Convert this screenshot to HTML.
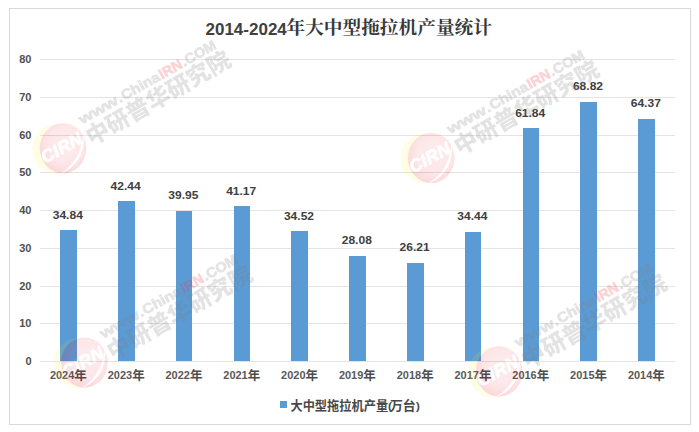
<!DOCTYPE html>
<html lang="zh"><head><meta charset="utf-8"><title>2014-2024年大中型拖拉机产量统计</title>
<style>
html,body{margin:0;padding:0;background:#fff;}
body{width:699px;height:432px;overflow:hidden;font-family:"Liberation Sans",sans-serif;}
svg{display:block}
text{font-family:"Liberation Sans","Noto Sans CJK SC",sans-serif;}
.ax{font-size:11px;font-weight:bold;fill:#505050}
.cat{font-size:11px;font-weight:bold;fill:#595959}
.val{font-size:11.4px;font-weight:bold;fill:#404040}
.ttl{font-size:17px;font-weight:bold;fill:#404040}
.lg{font-size:11.5px;font-weight:bold}
.cirn{font-size:17.5px;font-weight:bold;font-style:italic;fill:#000;stroke:#000;stroke-width:0.9px;letter-spacing:0.5px}
.wurl{font-size:14px;font-weight:bold;stroke-width:0.7px}
.yr{font-size:12.5px;font-weight:bold;fill:#4d4d4d}
.ttlc{font-family:"Liberation Serif","Noto Serif CJK SC",serif;font-size:18.67px;font-weight:bold;fill:#383838}
.lgc{font-size:13px;font-weight:bold;fill:#484848}
.wmc{font-size:23.3px;font-weight:900;fill:#7f7f7f}
</style></head>
<body>
<svg width="699" height="432" viewBox="0 0 699 432">
<defs><radialGradient id="pg" cx="0.56" cy="0.42" r="0.62"><stop offset="0" stop-color="#e60012" stop-opacity="0.075"/><stop offset="0.6" stop-color="#e60012" stop-opacity="0.095"/><stop offset="1" stop-color="#e60012" stop-opacity="0.16"/></radialGradient><mask id="ym" maskUnits="userSpaceOnUse" x="-40" y="-40" width="80" height="80"><rect x="-40" y="-40" width="80" height="80" fill="#fff"/><ellipse cx="0" cy="0" rx="23.3" ry="25.1" fill="#000"/></mask><mask id="lm" maskUnits="userSpaceOnUse" x="-40" y="-40" width="80" height="80"><rect x="-40" y="-40" width="80" height="80" fill="#fff"/><path d="M-1.5 24.6 C 8 21 15 13 17.8 5.5 C 20 -1 21 -7 20.5 -13.5 C 19.5 -6 18 0 15.8 5 C 12.5 12.5 6 20 -1.5 24.6 Z" fill="#000" stroke="#000" stroke-width="0.5"/><g transform="rotate(-29)"><text x="-23.4" y="4.85" class="cirn">CIRN</text></g></mask></defs>
<rect x="9.5" y="8.5" width="681" height="416" fill="#fff" stroke="#d9d9d9" stroke-width="1"/>
<line x1="40" x2="675" y1="361.5" y2="361.5" stroke="#e4e4e4" stroke-width="1"/>
<text x="31.5" y="364.5" text-anchor="end" class="ax" textLength="6.12" lengthAdjust="spacingAndGlyphs">0</text>
<line x1="40" x2="675" y1="323.5" y2="323.5" stroke="#e4e4e4" stroke-width="1"/>
<text x="31.5" y="326.5" text-anchor="end" class="ax" textLength="12.24" lengthAdjust="spacingAndGlyphs">10</text>
<line x1="40" x2="675" y1="286.5" y2="286.5" stroke="#e4e4e4" stroke-width="1"/>
<text x="31.5" y="289.5" text-anchor="end" class="ax" textLength="12.24" lengthAdjust="spacingAndGlyphs">20</text>
<line x1="40" x2="675" y1="248.5" y2="248.5" stroke="#e4e4e4" stroke-width="1"/>
<text x="31.5" y="251.5" text-anchor="end" class="ax" textLength="12.24" lengthAdjust="spacingAndGlyphs">30</text>
<line x1="40" x2="675" y1="210.5" y2="210.5" stroke="#e4e4e4" stroke-width="1"/>
<text x="31.5" y="213.5" text-anchor="end" class="ax" textLength="12.24" lengthAdjust="spacingAndGlyphs">40</text>
<line x1="40" x2="675" y1="172.5" y2="172.5" stroke="#e4e4e4" stroke-width="1"/>
<text x="31.5" y="175.5" text-anchor="end" class="ax" textLength="12.24" lengthAdjust="spacingAndGlyphs">50</text>
<line x1="40" x2="675" y1="135.5" y2="135.5" stroke="#e4e4e4" stroke-width="1"/>
<text x="31.5" y="138.5" text-anchor="end" class="ax" textLength="12.24" lengthAdjust="spacingAndGlyphs">60</text>
<line x1="40" x2="675" y1="97.5" y2="97.5" stroke="#e4e4e4" stroke-width="1"/>
<text x="31.5" y="100.5" text-anchor="end" class="ax" textLength="12.24" lengthAdjust="spacingAndGlyphs">70</text>
<line x1="40" x2="675" y1="59.5" y2="59.5" stroke="#e4e4e4" stroke-width="1"/>
<text x="31.5" y="62.5" text-anchor="end" class="ax" textLength="12.24" lengthAdjust="spacingAndGlyphs">80</text>
<rect x="60" y="230" width="17" height="131" fill="#5b9bd5"/>
<text x="67.8" y="219" text-anchor="middle" class="val" textLength="30.1" lengthAdjust="spacingAndGlyphs">34.84</text>
<text x="49.9" y="379.4" class="cat" textLength="24.4" lengthAdjust="spacingAndGlyphs">2024</text>
<text x="74.33" y="379.8" class="yr">年</text>
<rect x="118" y="201" width="17" height="160" fill="#5b9bd5"/>
<text x="125.6" y="190" text-anchor="middle" class="val" textLength="30.1" lengthAdjust="spacingAndGlyphs">42.44</text>
<text x="107.7" y="379.4" class="cat" textLength="24.4" lengthAdjust="spacingAndGlyphs">2023</text>
<text x="132.13" y="379.8" class="yr">年</text>
<rect x="176" y="211" width="16" height="150" fill="#5b9bd5"/>
<text x="183.4" y="199" text-anchor="middle" class="val" textLength="30.1" lengthAdjust="spacingAndGlyphs">39.95</text>
<text x="165.5" y="379.4" class="cat" textLength="24.4" lengthAdjust="spacingAndGlyphs">2022</text>
<text x="189.93" y="379.8" class="yr">年</text>
<rect x="234" y="206" width="16" height="155" fill="#5b9bd5"/>
<text x="241.2" y="195" text-anchor="middle" class="val" textLength="30.1" lengthAdjust="spacingAndGlyphs">41.17</text>
<text x="223.3" y="379.4" class="cat" textLength="24.4" lengthAdjust="spacingAndGlyphs">2021</text>
<text x="247.73" y="379.8" class="yr">年</text>
<rect x="291" y="231" width="17" height="130" fill="#5b9bd5"/>
<text x="299.0" y="220" text-anchor="middle" class="val" textLength="30.1" lengthAdjust="spacingAndGlyphs">34.52</text>
<text x="281.1" y="379.4" class="cat" textLength="24.4" lengthAdjust="spacingAndGlyphs">2020</text>
<text x="305.53" y="379.8" class="yr">年</text>
<rect x="349" y="256" width="17" height="105" fill="#5b9bd5"/>
<text x="356.8" y="244" text-anchor="middle" class="val" textLength="30.1" lengthAdjust="spacingAndGlyphs">28.08</text>
<text x="338.9" y="379.4" class="cat" textLength="24.4" lengthAdjust="spacingAndGlyphs">2019</text>
<text x="363.33" y="379.8" class="yr">年</text>
<rect x="407" y="263" width="17" height="98" fill="#5b9bd5"/>
<text x="414.6" y="251" text-anchor="middle" class="val" textLength="30.1" lengthAdjust="spacingAndGlyphs">26.21</text>
<text x="396.7" y="379.4" class="cat" textLength="24.4" lengthAdjust="spacingAndGlyphs">2018</text>
<text x="421.13" y="379.8" class="yr">年</text>
<rect x="465" y="232" width="16" height="129" fill="#5b9bd5"/>
<text x="472.4" y="220" text-anchor="middle" class="val" textLength="30.1" lengthAdjust="spacingAndGlyphs">34.44</text>
<text x="454.5" y="379.4" class="cat" textLength="24.4" lengthAdjust="spacingAndGlyphs">2017</text>
<text x="478.93" y="379.8" class="yr">年</text>
<rect x="523" y="128" width="16" height="233" fill="#5b9bd5"/>
<text x="530.2" y="117" text-anchor="middle" class="val" textLength="30.1" lengthAdjust="spacingAndGlyphs">61.84</text>
<text x="512.3" y="379.4" class="cat" textLength="24.4" lengthAdjust="spacingAndGlyphs">2016</text>
<text x="536.73" y="379.8" class="yr">年</text>
<rect x="580" y="102" width="17" height="259" fill="#5b9bd5"/>
<text x="588.0" y="90" text-anchor="middle" class="val" textLength="30.1" lengthAdjust="spacingAndGlyphs">68.82</text>
<text x="570.1" y="379.4" class="cat" textLength="24.4" lengthAdjust="spacingAndGlyphs">2015</text>
<text x="594.53" y="379.8" class="yr">年</text>
<rect x="638" y="119" width="17" height="242" fill="#5b9bd5"/>
<text x="645.8" y="107" text-anchor="middle" class="val" textLength="30.1" lengthAdjust="spacingAndGlyphs">64.37</text>
<text x="627.9" y="379.4" class="cat" textLength="24.4" lengthAdjust="spacingAndGlyphs">2014</text>
<text x="652.33" y="379.8" class="yr">年</text>
<text x="205.5" y="35.3" class="ttl" textLength="81.3" lengthAdjust="spacingAndGlyphs">2014-2024</text>
<text x="286.5" y="34.4" class="ttlc" textLength="205.4" lengthAdjust="spacingAndGlyphs">年大中型拖拉机产量统计</text>
<rect x="280" y="401" width="7" height="7" fill="#5b9bd5"/>
<text x="290.45" y="410.4" class="lgc" textLength="97.7" lengthAdjust="spacingAndGlyphs">大中型拖拉机产量</text>
<text x="387.9" y="409.8" class="lg" fill="#484848">(</text>
<text x="389.9" y="410.4" class="lgc" textLength="25.8" lengthAdjust="spacingAndGlyphs">万台</text>
<text x="415.9" y="409.8" class="lg" fill="#484848">)</text>
<g transform="translate(63.05 148.25)"><g mask="url(#lm)"><ellipse cx="-6.2" cy="0.6" rx="24.4" ry="25" fill="#ffe600" opacity="0.11" mask="url(#ym)"/><ellipse cx="0" cy="0" rx="23.3" ry="25.1" fill="url(#pg)"/></g><g opacity="0.21"><g transform="rotate(-29.4)"><text x="28.2" y="-11.5" class="wurl" fill="#7f7f7f" stroke="#7f7f7f" textLength="42.8" lengthAdjust="spacingAndGlyphs">www</text><text x="71.8" y="-11.5" class="wurl" fill="#7f7f7f" stroke="#7f7f7f" textLength="3.9" lengthAdjust="spacingAndGlyphs">.</text><text x="76.7" y="-11.5" class="wurl" fill="#7f7f7f" stroke="#7f7f7f" textLength="42.3" lengthAdjust="spacingAndGlyphs">China</text><text x="120.2" y="-11.5" class="wurl" fill="#ea3340" stroke="#ea3340" textLength="24.6" lengthAdjust="spacingAndGlyphs">IRN</text><text x="145.7" y="-11.5" class="wurl" fill="#7f7f7f" stroke="#7f7f7f" textLength="38.0" lengthAdjust="spacingAndGlyphs">.COM</text></g><g transform="rotate(-30)"><text x="25.9" y="12.4" class="wmc" textLength="163.1" lengthAdjust="spacingAndGlyphs">中研普华研究院</text></g></g></g>
<g transform="translate(431.25 158)"><g mask="url(#lm)"><ellipse cx="-6.2" cy="0.6" rx="24.4" ry="25" fill="#ffe600" opacity="0.11" mask="url(#ym)"/><ellipse cx="0" cy="0" rx="23.3" ry="25.1" fill="url(#pg)"/></g><g opacity="0.21"><g transform="rotate(-29.4)"><text x="28.2" y="-11.5" class="wurl" fill="#7f7f7f" stroke="#7f7f7f" textLength="42.8" lengthAdjust="spacingAndGlyphs">www</text><text x="71.8" y="-11.5" class="wurl" fill="#7f7f7f" stroke="#7f7f7f" textLength="3.9" lengthAdjust="spacingAndGlyphs">.</text><text x="76.7" y="-11.5" class="wurl" fill="#7f7f7f" stroke="#7f7f7f" textLength="42.3" lengthAdjust="spacingAndGlyphs">China</text><text x="120.2" y="-11.5" class="wurl" fill="#ea3340" stroke="#ea3340" textLength="24.6" lengthAdjust="spacingAndGlyphs">IRN</text><text x="145.7" y="-11.5" class="wurl" fill="#7f7f7f" stroke="#7f7f7f" textLength="38.0" lengthAdjust="spacingAndGlyphs">.COM</text></g><g transform="rotate(-30)"><text x="25.9" y="12.4" class="wmc" textLength="163.1" lengthAdjust="spacingAndGlyphs">中研普华研究院</text></g></g></g>
<g transform="translate(84.45 362.6)"><g mask="url(#lm)"><ellipse cx="-6.2" cy="0.6" rx="24.4" ry="25" fill="#ffe600" opacity="0.11" mask="url(#ym)"/><ellipse cx="0" cy="0" rx="23.3" ry="25.1" fill="url(#pg)"/></g><g opacity="0.21"><g transform="rotate(-29.4)"><text x="28.2" y="-11.5" class="wurl" fill="#7f7f7f" stroke="#7f7f7f" textLength="42.8" lengthAdjust="spacingAndGlyphs">www</text><text x="71.8" y="-11.5" class="wurl" fill="#7f7f7f" stroke="#7f7f7f" textLength="3.9" lengthAdjust="spacingAndGlyphs">.</text><text x="76.7" y="-11.5" class="wurl" fill="#7f7f7f" stroke="#7f7f7f" textLength="42.3" lengthAdjust="spacingAndGlyphs">China</text><text x="120.2" y="-11.5" class="wurl" fill="#ea3340" stroke="#ea3340" textLength="24.6" lengthAdjust="spacingAndGlyphs">IRN</text><text x="145.7" y="-11.5" class="wurl" fill="#7f7f7f" stroke="#7f7f7f" textLength="38.0" lengthAdjust="spacingAndGlyphs">.COM</text></g><g transform="rotate(-30)"><text x="25.9" y="12.4" class="wmc" textLength="163.1" lengthAdjust="spacingAndGlyphs">中研普华研究院</text></g></g></g>
<g transform="translate(499.15 371.4)"><g mask="url(#lm)"><ellipse cx="-6.2" cy="0.6" rx="24.4" ry="25" fill="#ffe600" opacity="0.11" mask="url(#ym)"/><ellipse cx="0" cy="0" rx="23.3" ry="25.1" fill="url(#pg)"/></g><g opacity="0.21"><g transform="rotate(-29.4)"><text x="28.2" y="-11.5" class="wurl" fill="#7f7f7f" stroke="#7f7f7f" textLength="42.8" lengthAdjust="spacingAndGlyphs">www</text><text x="71.8" y="-11.5" class="wurl" fill="#7f7f7f" stroke="#7f7f7f" textLength="3.9" lengthAdjust="spacingAndGlyphs">.</text><text x="76.7" y="-11.5" class="wurl" fill="#7f7f7f" stroke="#7f7f7f" textLength="42.3" lengthAdjust="spacingAndGlyphs">China</text><text x="120.2" y="-11.5" class="wurl" fill="#ea3340" stroke="#ea3340" textLength="24.6" lengthAdjust="spacingAndGlyphs">IRN</text><text x="145.7" y="-11.5" class="wurl" fill="#7f7f7f" stroke="#7f7f7f" textLength="38.0" lengthAdjust="spacingAndGlyphs">.COM</text></g><g transform="rotate(-30)"><text x="25.9" y="12.4" class="wmc" textLength="163.1" lengthAdjust="spacingAndGlyphs">中研普华研究院</text></g></g></g>
</svg>
</body></html>
